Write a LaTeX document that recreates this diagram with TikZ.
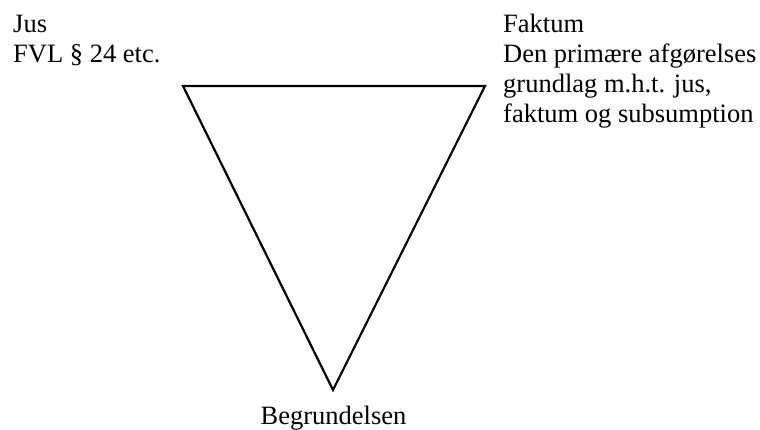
\documentclass[tikz,border=0pt]{standalone}
\usepackage{fontspec}
\setmainfont{Liberation Serif}
\usepackage{tikz}
\usetikzlibrary{positioning}

\begin{document}
\begin{tikzpicture}[x=1pt, y=1pt,
    lbl/.style={font=\fontsize{26.5}{30}\selectfont, inner sep=0pt, anchor=base west},
    edge/.style={line width=2.2pt, line join=miter}]
  \useasboundingbox (0,0) rectangle (760,430);
  % Corners of the triangle
  \coordinate (jusc) at (183,344);
  \coordinate (faktc) at (485,344);
  \coordinate (begc) at (333,40);
  \draw[edge] (jusc) -- (faktc) -- (begc) -- cycle;
  % Left label
  \node[lbl] (jus) at (13,397.5) {Jus};
  \node[lbl] (jusref) at (13,367.5) {FVL § 24 etc.};
  % Right label
  \node[lbl] (fakt) at (503,397.5) {Faktum};
  \node[lbl] (fakt1) at (503,367.5) {Den primære afgørelses};
  \node[lbl] (fakt2) at (503,337.5) {grundlag m.h.t. jus,};
  \node[lbl] (fakt3) at (503,307.5) {faktum og subsumption};
  % Bottom label
  \node[lbl, anchor=base] (beg) at (333.5,5) {Begrundelsen};
\end{tikzpicture}
\end{document}
